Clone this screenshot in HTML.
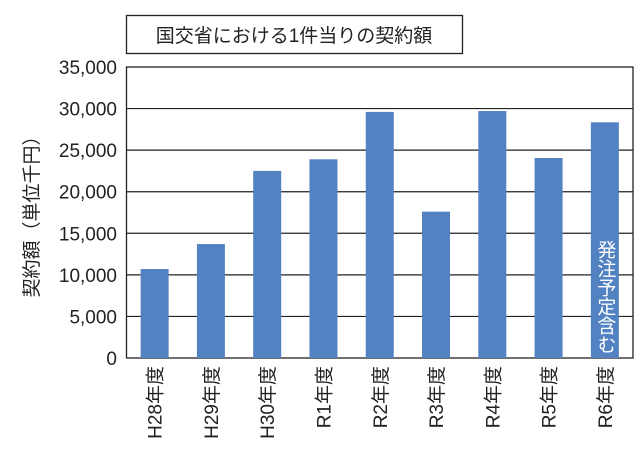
<!DOCTYPE html>
<html><head><meta charset="utf-8"><style>
body{margin:0;background:#fff;}
svg text{font-family:"Liberation Sans","Noto Sans CJK JP",sans-serif;fill:#222;}
</style></head><body>
<svg id="c" width="644" height="453">
<rect x="126.5" y="15.5" width="336" height="38" fill="#fff" stroke="#222" stroke-width="1.3"/>
<text x="294" y="42" font-size="19" text-anchor="middle">国交省における1件当りの契約額</text>
<text transform="translate(38,212) rotate(-90)" font-size="19" text-anchor="middle">契約額（単位千円）</text>
<g id="grid"></g><g id="bars"></g><g id="labels"></g>
</svg>
<script>
const categories=["H28年度","H29年度","H30年度","R1年度","R2年度","R3年度","R4年度","R5年度","R6年度"];
const values=[10700,13700,22500,23900,29600,17600,29700,24050,28350];
const ticks=[0,5000,10000,15000,20000,25000,30000,35000];
const tickLabels=["0","5,000","10,000","15,000","20,000","25,000","30,000","35,000"];
const NS="http://www.w3.org/2000/svg";
const L=126.5,R=633,T=67,B=358,MAX=35000;
const y=v=>B-(v/MAX)*(B-T);
const step=(R-L)/categories.length;
const x=i=>L+step*(i+0.5);
function mk(tag,attrs,parent){const e=document.createElementNS(NS,tag);for(const k in attrs)e.setAttribute(k,attrs[k]);document.getElementById(parent).appendChild(e);return e;}
ticks.forEach((t,i)=>{
 if(t>0&&t<MAX){const g=mk("line",{x1:L,x2:R,y1:y(t),y2:y(t),stroke:"#222","stroke-width":1.2},"grid");
 
 }
 const tx=mk("text",{x:117,y:y(t)+7,"font-size":19,"text-anchor":"end"},"labels");
 tx.textContent=tickLabels[i];
 
 
});
const fr=mk("rect",{x:L,y:T,width:R-L,height:B-T,fill:"none",stroke:"#222","stroke-width":1.3},"grid");


const bw=28;
values.forEach((v,i)=>{
 const b=mk("rect",{x:x(i)-bw/2,y:y(v),width:bw,height:B-y(v),fill:"#5282c2"},"bars");
 
 
 const t=mk("text",{transform:`translate(${x(i)+7},366) rotate(-90)`,"font-size":19,"text-anchor":"end"},"labels");
 t.textContent=categories[i];
 
 
});
const n=mk("text",{x:x(8),y:240,"font-size":19,"writing-mode":"tb","text-anchor":"start",style:"fill:#fff"},"labels");
n.textContent="発注予定含む";


</script>
</body></html>
